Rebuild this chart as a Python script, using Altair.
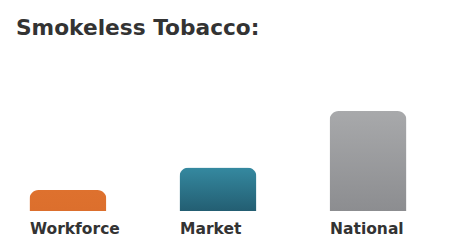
import altair as alt
import pandas as pd

categories = ["Workforce", "Market", "National"]
values = [2.1, 4.35, 10.0]
top_colors = ["#DE712E", "#3589A0", "#A8A9AB"]
bottom_colors = ["#DC6F2D", "#235E72", "#8C8D90"]

df = pd.DataFrame({"category": categories, "value": values})

PLOT_H = 163
x = alt.X("category:N", sort=categories, title=None,
          scale=alt.Scale(paddingInner=0.487, paddingOuter=0.143),
          axis=alt.Axis(domain=False, ticks=False, labelAngle=0,
                        labelFont="DejaVu Sans", labelFontWeight="bold",
                        labelFontSize=15.5, labelColor="#333333",
                        labelPadding=10, labelAlign="left", labelOffset=-38))
y = alt.Y("value:Q", title=None,
          scale=alt.Scale(domain=[0, PLOT_H / 10.0], nice=False),
          axis=None)

layers = []
for cat, tc, bc in zip(categories, top_colors, bottom_colors):
    layers.append(
        alt.Chart(df).transform_filter(alt.datum.category == cat)
        .mark_bar(cornerRadiusTopLeft=9, cornerRadiusTopRight=9,
                  color=alt.LinearGradient(gradient="linear",
                                           stops=[alt.GradientStop(color=tc, offset=0),
                                                  alt.GradientStop(color=bc, offset=1)],
                                           x1=0, x2=0, y1=0, y2=1))
        .encode(x=x, y=y)
    )

chart = alt.layer(*layers).properties(
    width=420, height=PLOT_H,
    title=alt.Title("Smokeless Tobacco:", anchor="start", font="DejaVu Sans",
                    fontSize=21.7, fontWeight="bold", color="#333333", dx=8, offset=8),
    padding={"left": 0, "top": 10, "right": 0, "bottom": 0},
).configure_view(stroke=None)

chart.save("out.html", embed_options={"renderer": "svg", "actions": False})
